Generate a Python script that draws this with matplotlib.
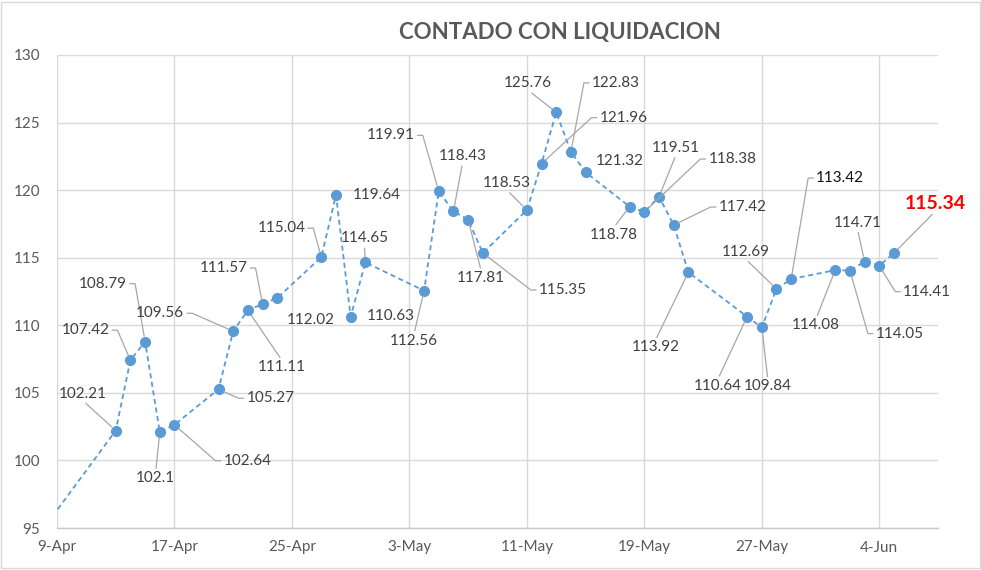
import matplotlib
matplotlib.use("Agg")
import matplotlib.pyplot as plt
import matplotlib.dates as mdates
from matplotlib.ticker import FuncFormatter
from matplotlib.patches import Rectangle
import numpy as np
import pandas as pd

# ---------------- data ----------------
dates = ["2020-04-08", "2020-04-13", "2020-04-14", "2020-04-15", "2020-04-16", "2020-04-17",
         "2020-04-20", "2020-04-21", "2020-04-22", "2020-04-23", "2020-04-24",
         "2020-04-27", "2020-04-28", "2020-04-29", "2020-04-30",
         "2020-05-04", "2020-05-05", "2020-05-06", "2020-05-07", "2020-05-08",
         "2020-05-11", "2020-05-12", "2020-05-13", "2020-05-14", "2020-05-15",
         "2020-05-18", "2020-05-19", "2020-05-20", "2020-05-21", "2020-05-22",
         "2020-05-26", "2020-05-27", "2020-05-28", "2020-05-29",
         "2020-06-01", "2020-06-02", "2020-06-03", "2020-06-04", "2020-06-05"]
values = [94.84, 102.21, 107.42, 108.79, 102.10, 102.64,
          105.27, 109.56, 111.11, 111.57, 112.02,
          115.04, 119.64, 110.63, 114.65,
          112.56, 119.91, 118.43, 117.81, 115.35,
          118.53, 121.96, 125.76, 122.83, 121.32,
          118.78, 118.38, 119.51, 117.42, 113.92,
          110.64, 109.84, 112.69, 113.42,
          114.08, 114.05, 114.71, 114.41, 115.34]
label_texts = [None, "102.21", "107.42", "108.79", "102.1", "102.64",
               "105.27", "109.56", "111.11", "111.57", "112.02",
               "115.04", "119.64", "110.63", "114.65",
               "112.56", "119.91", "118.43", "117.81", "115.35",
               "118.53", "121.96", "125.76", "122.83", "121.32",
               "118.78", "118.38", "119.51", "117.42", "113.92",
               "110.64", "109.84", "112.69", "113.42",
               "114.08", "114.05", "114.71", "114.41", "115.34"]
title = "CONTADO CON LIQUIDACION"
x_start, x_end = "2020-04-09", "2020-06-08"
y_ticks = [95, 100, 105, 110, 115, 120, 125, 130]

# ---------------- label placement (offset in pixels, leader side) ----------------
label_layout = [None, (-33, 37, 'b'), (-45, 30, 'r'), (-42, 58, 'r'), (-4, -46, 't'), (73, -36, 'l'),
                (52, -9, 'l'), (-73, 18, 'r'), (34, -57, 't'), (-39, 36, 'r'), (34, -22, 'n'),
                (-40, 29, 'r'), (41, 0, 'n'), (40, 1, 'n'), (-1, 24, 'b'),
                (-10, -50, 't'), (-48, 56, 'r'), (9, 55, 'b'), (13, -58, 't'), (80, -37, 'l'),
                (-20, 27, 'b'), (82, 46, 'l'), (-28, 29, 'b'), (45, 69, 'l'), (34, 11, 'n'),
                (-16, -28, 't'), (88, 53, 'l'), (17, 49, 'b'), (69, 18, 'l'), (-33, -75, 't'),
                (-29, -69, 't'), (6, -59, 't'), (-31, 37, 'b'), (49, 101, 'l'),
                (-19, -55, 't'), (50, -63, 'l'), (-7, 39, 'b'), (48, -26, 'l'), (41, 50, 'b')]

FONT = ["Lato", "DejaVu Sans"]
plt.rcParams['font.family'] = FONT

W, H = 981, 570
fig = plt.figure(figsize=(W / 100, H / 100), dpi=100)
fig.patch.set_facecolor("white")
L, R, T, B = 57, 938, 55, 528
ax = fig.add_axes([L / W, 1 - B / H, (R - L) / W, (B - T) / H])

xd = mdates.date2num(pd.to_datetime(dates).to_pydatetime())
x0 = mdates.date2num(pd.Timestamp(x_start).to_pydatetime())
x1 = mdates.date2num(pd.Timestamp(x_end).to_pydatetime())

ax.plot(xd, values, linestyle=(0, (2.8, 2.0)), color="#5b9bd5", lw=1.3,
        marker="o", ms=7, mfc="#5b9bd5", mec="#5b9bd5", zorder=3)

ax.set_xlim(x0, x1)
ax.set_ylim(y_ticks[0], y_ticks[-1])
ax.set_yticks(y_ticks)
ax.set_xticks(np.arange(x0, x1 + 0.5, 8))


def fmt_date(v, pos):
    d = mdates.num2date(v)
    return f"{d.day}-{d.strftime('%b')}"


ax.xaxis.set_major_formatter(FuncFormatter(fmt_date))
ax.tick_params(axis="both", length=0, labelsize=11, labelcolor="#595959")
ax.tick_params(axis="y", pad=12)
ax.tick_params(axis="x", pad=9)
ax.grid(True, color="#d9d9d9", lw=1)
ax.set_axisbelow(True)
for s in ["left", "top", "right"]:
    ax.spines[s].set_visible(False)
ax.spines["bottom"].set_color("#c8c8c8")
ax.spines["bottom"].set_linewidth(1)

# data labels with leader lines
for i, (xv, yv, txt, lay) in enumerate(zip(xd, values, label_texts, label_layout)):
    if txt is None:
        continue
    dx, dy, side = lay
    last = (i == len(values) - 1)
    color = "#ff0000" if last else ("#111111" if txt == "113.42" else "#404040")
    kw = dict(fontsize=14 if last else 11, fontweight="bold" if last else "normal", color=color)
    arrow = None
    if side == 'r':
        arrow = dict(arrowstyle="-", color="#a6a6a6", lw=0.9, relpos=(1, 0.5), shrinkA=0, shrinkB=4,
                     connectionstyle="arc,angleA=0,armA=8,angleB=0,armB=0,rad=0")
    elif side == 'l':
        arrow = dict(arrowstyle="-", color="#a6a6a6", lw=0.9, relpos=(0, 0.5), shrinkA=0, shrinkB=4,
                     connectionstyle="arc,angleA=180,armA=8,angleB=0,armB=0,rad=0")
    elif side == 't':
        arrow = dict(arrowstyle="-", color="#a6a6a6", lw=0.9, relpos=(0.5, 1), shrinkA=0, shrinkB=4)
    elif side == 'b':
        arrow = dict(arrowstyle="-", color="#a6a6a6", lw=0.9, relpos=(0.5, 0), shrinkA=0, shrinkB=4)
    ax.annotate(txt, xy=(xv, yv), xytext=(dx, dy), textcoords="offset pixels",
                ha="center", va="center", arrowprops=arrow, annotation_clip=False, **kw)

fig.text(560 / W, 1 - 33 / H, title, ha="center", va="center", fontsize=16,
         fontweight="bold", color="#595959")

fig.add_artist(Rectangle((0.5 / W, 2 / H), (W - 2) / W, (H - 4) / H, transform=fig.transFigure,
                         fill=False, ec="#d9d9d9", lw=1))

fig.savefig("out.png", dpi=100)
